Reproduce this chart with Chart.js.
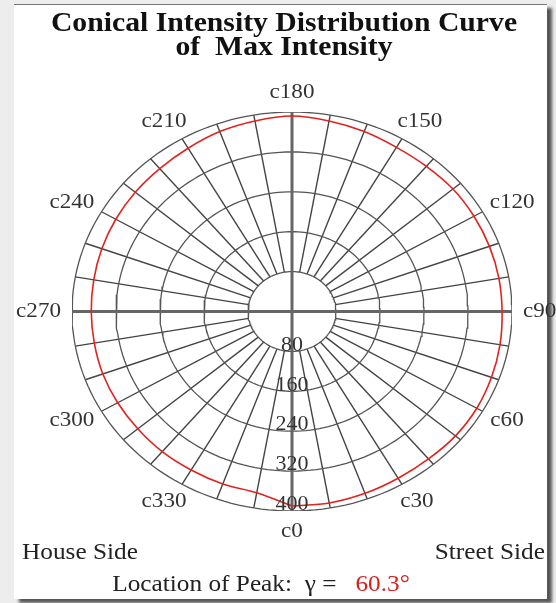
<!DOCTYPE html>
<html>
<head>
<meta charset="utf-8">
<script src="https://cdn.jsdelivr.net/npm/chart.js@4.4.0/dist/chart.umd.min.js"></script>
<style>
  body { margin: 0; width: 556px; height: 603px; overflow: hidden; background: #ededed; position: relative; }
  #frame { position: absolute; left: 14px; top: 4px; width: 533px; height: 594px; background: #fff;
           border-top: 1px solid #777; box-shadow: 5px 4px 3px #555; }
  #chart { position: absolute; left: 0; top: 0; }
</style>
</head>
<body>
<div id="frame"></div>
<canvas id="chart" width="556" height="603"></canvas>
<script>
// C-plane angles (degrees) and max intensity
const cAngles = [0, 10, 20, 30, 40, 50, 60, 70, 80, 90, 100, 110, 120, 130, 140, 150, 160, 170,
                 180, 190, 200, 210, 220, 230, 240, 250, 260, 270, 280, 290, 300, 310, 320, 330, 340, 350];
const intensity = [390, 390, 388, 386, 386, 388, 388, 386, 384, 382, 382, 382, 382, 382, 380, 380, 384, 388,
                   392, 388, 384, 378, 374, 372, 370, 368, 366, 365, 365, 366, 366, 366, 367, 367, 368, 369];
const ringValues = [80, 160, 240, 320, 400];
const spokeAngles = [0, 10, 20, 30, 40, 50, 60, 70, 80, 90, 100, 110, 120, 130, 140, 150, 160, 170,
                     180, 190, 200, 210, 220, 230, 240, 250, 260, 270, 280, 290, 300, 310, 320, 330, 340, 350];
const labelAngles = [0, 30, 60, 90, 120, 150, 180, 210, 240, 270, 300, 330];
const angleLabels = ['c0', 'c30', 'c60', 'c90', 'c120', 'c150', 'c180', 'c210', 'c240', 'c270', 'c300', 'c330'];
const titleLines = ['Conical Intensity Distribution Curve', 'of  Max Intensity'];
const peakLabel = 'Location of Peak:  \u03b3 =   ';
const peakValue = '60.3\u00b0';

const R_MAX = 400;
const STRETCH = 1.1;
const SERIF = '"Liberation Serif", "Times New Roman", serif';

function toXY(r, c) {
  const a = c * Math.PI / 180;
  return { x: r * Math.sin(a), y: -r * Math.cos(a) };
}

const datasets = [];

// red intensity curve
const curve = cAngles.map((c, i) => toXY(intensity[i], c));
curve.push(curve[0]);
datasets.push({ data: curve, borderColor: '#e1231e', borderWidth: 1.6, showLine: true, tension: 0.35, order: 0 });

// rings
ringValues.forEach(r => {
  const pts = [];
  for (let c = 0; c <= 360; c += 2) pts.push(toXY(r, c));
  datasets.push({ data: pts, borderColor: '#555', borderWidth: 1.3, showLine: true, order: 2 });
});

// spokes
spokeAngles.forEach(c => {
  if (c % 90 === 0) return;
  datasets.push({ data: [toXY(ringValues[0], c), toXY(R_MAX, c)], borderColor: '#444',
                  borderWidth: 1.4, showLine: true, order: 2 });
});

// main axes
datasets.push({ data: [toXY(R_MAX, 0), toXY(R_MAX, 180)], borderColor: '#666', borderWidth: 3, showLine: true, order: 1 });
datasets.push({ data: [toXY(R_MAX, 90), toXY(R_MAX, 270)], borderColor: '#666', borderWidth: 3, showLine: true, order: 1 });

function wideText(ctx, text, x, y) {
  ctx.save();
  ctx.translate(x, y);
  ctx.scale(STRETCH, 1);
  ctx.fillText(text, 0, 0);
  ctx.restore();
}

const labelPlugin = {
  id: 'labels',
  afterDatasetsDraw(chart) {
    const ctx = chart.ctx;
    const xs = chart.scales.x, ys = chart.scales.y;
    const cx = xs.getPixelForValue(0), cy = ys.getPixelForValue(0);
    ctx.save();
    ctx.textBaseline = 'middle';
    ctx.textAlign = 'center';

    // ring values along c0
    ctx.fillStyle = '#333';
    ctx.font = '20px ' + SERIF;
    ringValues.forEach(r => {
      wideText(ctx, String(r), cx, ys.getPixelForValue(-r) - 6);
    });

    // C-plane labels
    ctx.font = '21px ' + SERIF;
    labelAngles.forEach((c, i) => {
      const p = toXY(R_MAX, c);
      const px = xs.getPixelForValue(p.x), py = ys.getPixelForValue(p.y);
      const dx = (px - cx), dy = (py - cy);
      const len = Math.hypot(dx, dy);
      const ux = dx / len, uy = dy / len;
      const w = ctx.measureText(angleLabels[i]).width * STRETCH;
      const tx = px + ux * 11 + ux * w / 2;
      const ty = py + uy * 12 + uy * 8;
      wideText(ctx, angleLabels[i], tx, ty);
    });

    // title
    ctx.fillStyle = '#111';
    ctx.font = 'bold 27px ' + SERIF;
    wideText(ctx, titleLines[0], 284, 24);
    wideText(ctx, titleLines[1], 284, 48);

    // footer
    ctx.font = '23px ' + SERIF;
    ctx.fillStyle = '#222';
    ctx.textAlign = 'left';
    wideText(ctx, 'House Side', 22, 553);
    ctx.textAlign = 'right';
    wideText(ctx, 'Street Side', 545, 553);

    ctx.textAlign = 'left';
    const w1 = ctx.measureText(peakLabel).width * STRETCH;
    const w2 = ctx.measureText(peakValue).width * STRETCH;
    const x0 = 261 - (w1 + w2) / 2;
    wideText(ctx, peakLabel, x0, 585);
    ctx.fillStyle = '#d42020';
    wideText(ctx, peakValue, x0 + w1, 585);
    ctx.restore();
  }
};

new Chart(document.getElementById('chart'), {
  type: 'scatter',
  data: { datasets },
  options: {
    responsive: false,
    animation: false,
    layout: { padding: { left: 72, right: 44, top: 112, bottom: 92 } },
    elements: { point: { radius: 0 }, line: { tension: 0 } },
    plugins: { legend: { display: false }, tooltip: { enabled: false } },
    scales: {
      x: { type: 'linear', min: -R_MAX, max: R_MAX, display: false },
      y: { type: 'linear', min: -R_MAX, max: R_MAX, display: false }
    }
  },
  plugins: [labelPlugin]
});
</script>
</body>
</html>
